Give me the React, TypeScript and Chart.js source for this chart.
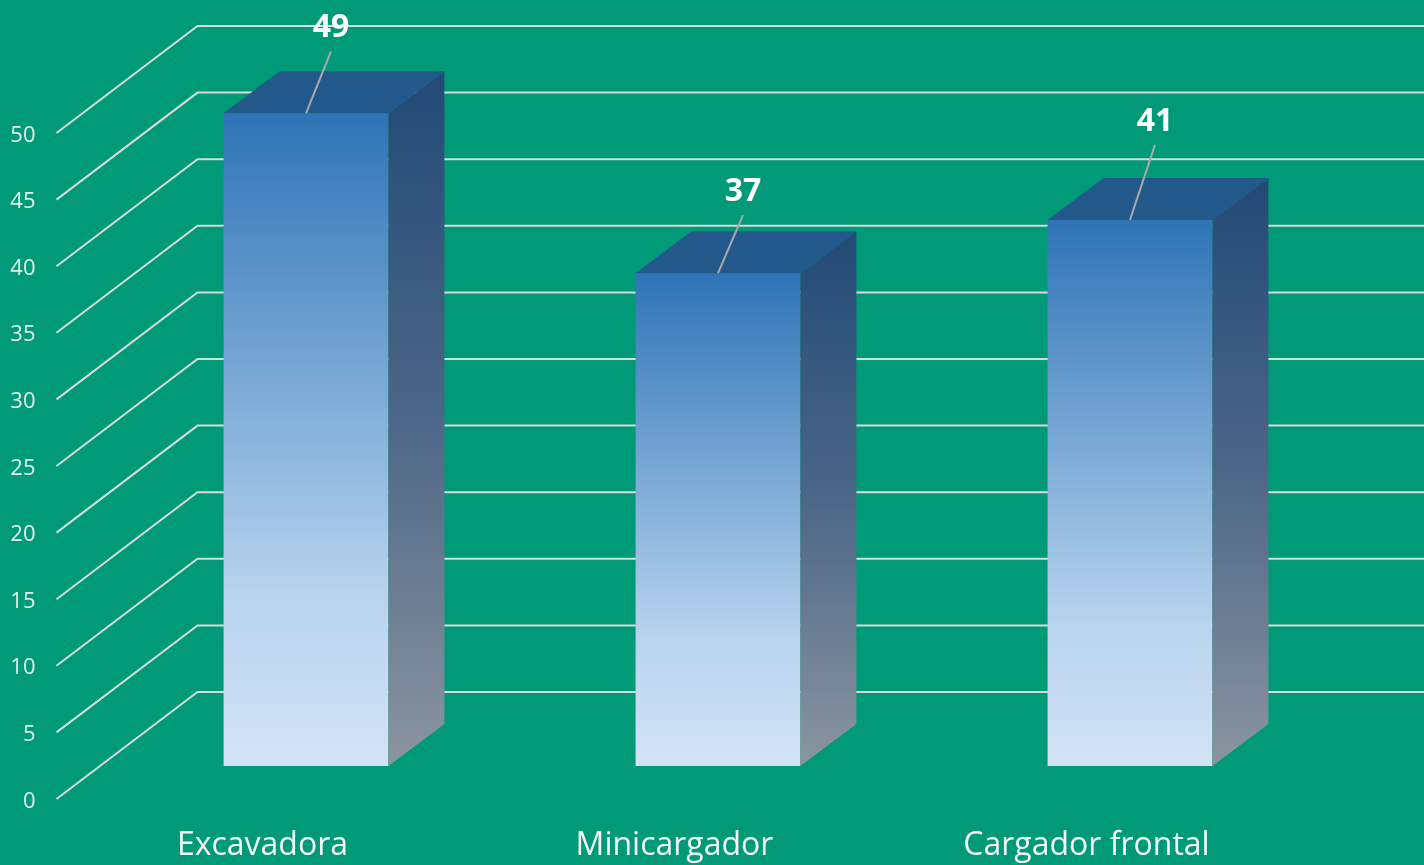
import React, { useEffect, useRef } from 'react';
import { Chart, registerables } from 'chart.js';

Chart.register(...registerables);

// ---- data ----
const categories: string[] = ['Excavadora', 'Minicargador', 'Cargador frontal'];
const values: number[] = [49, 37, 41];
const yTicks: number[] = [0, 5, 10, 15, 20, 25, 30, 35, 40, 45, 50];

// ---- style ----
const BG = '#009A78';
const GRID = '#D6DCD9';
const FRONT = { dx: -43.5, dy: 33 }; // bar plane -> front wall edge
const BACK = { dx: 97.5, dy: -74 }; // bar plane -> back wall
const DEPTH = { dx: 56, dy: -42 }; // bar depth
const LABEL_LIFT = [0, -4, 13]; // manual data-label nudges
const FONT = '"Open Sans", "Noto Sans", sans-serif';

const threeD = {
  id: 'threeD',
  beforeDraw(chart: any) {
    const ctx = chart.ctx;
    ctx.save();
    ctx.fillStyle = BG;
    ctx.fillRect(0, 0, chart.width, chart.height);
    ctx.restore();
  },
  beforeDatasetsDraw(chart: any) {
    const ctx = chart.ctx;
    const ys = chart.scales.y;
    const area = chart.chartArea;
    ctx.save();
    ctx.strokeStyle = GRID;
    ctx.lineWidth = 2;
    yTicks.forEach((v) => {
      const py = ys.getPixelForValue(v);
      ctx.beginPath();
      ctx.moveTo(area.left + FRONT.dx, py + FRONT.dy);
      ctx.lineTo(area.left + BACK.dx, py + BACK.dy);
      ctx.lineTo(chart.width + 5, py + BACK.dy);
      ctx.stroke();
    });
    // y tick labels on the front edge
    ctx.fillStyle = '#E4F1EC';
    ctx.font = `22px ${FONT}`;
    ctx.textAlign = 'right';
    ctx.textBaseline = 'alphabetic';
    yTicks.forEach((v) => {
      const py = ys.getPixelForValue(v);
      ctx.fillText(String(v), area.left + FRONT.dx - 21, py + FRONT.dy + 8.5);
    });
    // category labels
    const xs = chart.scales.x;
    ctx.fillStyle = '#F2F7F5';
    ctx.font = `32px ${FONT}`;
    ctx.textAlign = 'center';
    categories.forEach((c, i) => {
      ctx.fillText(c, xs.getPixelForValue(i) + FRONT.dx, area.bottom + 89);
    });
    ctx.restore();
  },
  afterDatasetsDraw(chart: any) {
    const ctx = chart.ctx;
    const meta = chart.getDatasetMeta(0);
    ctx.save();
    meta.data.forEach((bar: any, i: number) => {
      const { x, y, base, width } = bar.getProps(['x', 'y', 'base', 'width'], true);
      const l = x - width / 2;
      const r = x + width / 2;
      // side face
      const sg = ctx.createLinearGradient(0, y + DEPTH.dy, 0, base);
      sg.addColorStop(0, '#224A76');
      sg.addColorStop(0.5, '#4C6787');
      sg.addColorStop(1, '#8B959F');
      ctx.fillStyle = sg;
      ctx.beginPath();
      ctx.moveTo(r, y);
      ctx.lineTo(r + DEPTH.dx, y + DEPTH.dy);
      ctx.lineTo(r + DEPTH.dx, base + DEPTH.dy);
      ctx.lineTo(r, base);
      ctx.closePath();
      ctx.fill();
      // top face
      ctx.fillStyle = '#23588B';
      ctx.beginPath();
      ctx.moveTo(l, y);
      ctx.lineTo(l + DEPTH.dx, y + DEPTH.dy);
      ctx.lineTo(r + DEPTH.dx, y + DEPTH.dy);
      ctx.lineTo(r, y);
      ctx.closePath();
      ctx.fill();
      // data label + leader line
      const lx = x + 25;
      const baseline = y - 76 - (LABEL_LIFT[i] || 0);
      ctx.strokeStyle = '#A9A9A9';
      ctx.lineWidth = 2;
      ctx.beginPath();
      ctx.moveTo(lx, baseline + 14);
      ctx.lineTo(x, y);
      ctx.stroke();
      ctx.fillStyle = '#FFFFFF';
      ctx.font = `bold 32px ${FONT}`;
      ctx.textAlign = 'center';
      ctx.textBaseline = 'alphabetic';
      ctx.fillText(String(values[i]), lx, baseline);
    });
    ctx.restore();
  },
};

export default function App() {
  const ref = useRef<HTMLCanvasElement | null>(null);
  useEffect(() => {
    document.body.style.margin = '0';
    const canvas = ref.current;
    if (!canvas) return;
    const chart = new Chart(canvas, {
      type: 'bar',
      data: {
        labels: categories,
        datasets: [
          {
            data: values,
            barPercentage: 0.4,
            categoryPercentage: 1,
            borderWidth: 0,
            backgroundColor: (c: any) => {
              const ch = c.chart;
              const ys = ch.scales && ch.scales.y;
              if (!ys || typeof c.raw !== 'number') return '#5B9BD5';
              const top = ys.getPixelForValue(c.raw);
              const bot = ys.getPixelForValue(0);
              if (!isFinite(top) || !isFinite(bot) || top === bot) return '#5B9BD5';
              const g = ch.ctx.createLinearGradient(0, top, 0, bot);
              g.addColorStop(0, '#2E74B6');
              g.addColorStop(0.74, '#B8D4EE');
              g.addColorStop(1, '#D3E3F6');
              return g;
            },
          },
        ],
      },
      options: {
        responsive: false,
        animation: false,
        events: [],
        layout: { padding: { left: 100, right: 88, top: 100, bottom: 99 } },
        plugins: { legend: { display: false }, tooltip: { enabled: false } },
        scales: {
          x: { display: false },
          y: { display: false, min: 0, max: 50 },
        },
      },
      plugins: [threeD],
    });
    return () => chart.destroy();
  }, []);
  return (
    <div style={{ position: 'fixed', left: 0, top: 0, width: 1424, height: 865 }}>
      <canvas ref={ref} width={1424} height={865} />
    </div>
  );
}
